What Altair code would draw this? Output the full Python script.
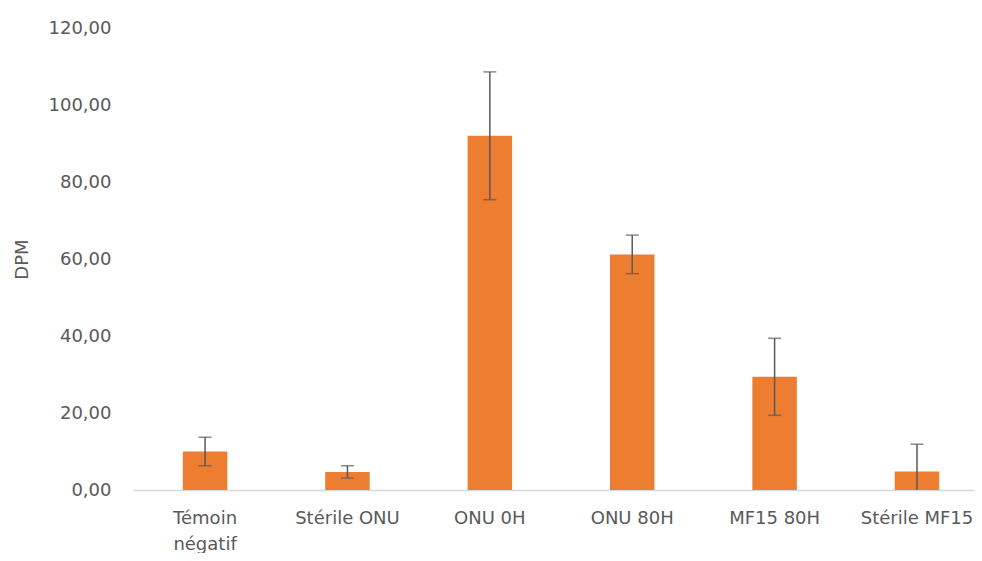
import altair as alt
import pandas as pd

categories = ["Témoin\nnégatif", "Stérile ONU", "ONU 0H", "ONU 80H", "MF15 80H", "Stérile MF15"]
values = [10.0, 4.7, 92.0, 61.2, 29.4, 4.8]
errors = [3.7, 1.6, 16.6, 5.0, 10.0, 7.1]

rows = []
for c, v, e in zip(categories, values, errors):
    lo = max(v - e, 0.0)
    rows.append({"cat": c, "v": v, "hi": v + e, "lo": lo, "locap": (v - e) >= 0})
df = pd.DataFrame(rows)
order = categories

FONT = "DejaVu Sans"
GRAY = "#595959"

x = alt.X("cat:N", sort=order, title=None,
          scale=alt.Scale(paddingInner=0.6875, paddingOuter=0.297, align=0.589),
          axis=alt.Axis(labelAngle=0, ticks=False, domainColor="#D9D9D9", domainWidth=1.5,
                        labelColor=GRAY, labelFont=FONT, labelFontSize=18,
                        labelPadding=19, labelLineHeight=26,
                        labelExpr="split(datum.label, '\\n')"))
yscale = alt.Scale(domain=[0, 120], nice=False)

bars = alt.Chart(df).mark_bar(color="#ED7D31").encode(
    x=x,
    y=alt.Y("v:Q", scale=yscale, title="DPM",
            axis=alt.Axis(values=[0, 20, 40, 60, 80, 100, 120], grid=False, domain=False, ticks=False,
                          labelColor=GRAY, labelFont=FONT, labelFontSize=18, labelPadding=22,
                          titleColor=GRAY, titleFont=FONT, titleFontSize=18, titleFontWeight="normal",
                          titlePadding=17,
                          labelExpr="replace(format(datum.value, '.2f'), '.', ',')")),
)

rules = alt.Chart(df).mark_rule(color=GRAY, strokeWidth=1.5).encode(
    x=alt.X("cat:N", sort=order),
    y=alt.Y("lo:Q", scale=yscale),
    y2="hi:Q",
)

topcaps = alt.Chart(df).mark_tick(color=GRAY, thickness=1.5, size=13, orient="horizontal").encode(
    x=alt.X("cat:N", sort=order),
    y=alt.Y("hi:Q", scale=yscale),
)

lowcaps = alt.Chart(df).transform_filter("datum.locap").mark_tick(
    color=GRAY, thickness=1.5, size=13, orient="horizontal").encode(
    x=alt.X("cat:N", sort=order),
    y=alt.Y("lo:Q", scale=yscale),
)

chart = alt.layer(bars, rules, topcaps, lowcaps).properties(
    width=841, height=462,
    autosize="none",
    padding={"left": 125, "top": 20, "right": 0, "bottom": 63},
).configure_view(stroke=None)

chart.save("out.html", embed_options={"renderer": "svg", "actions": False})
